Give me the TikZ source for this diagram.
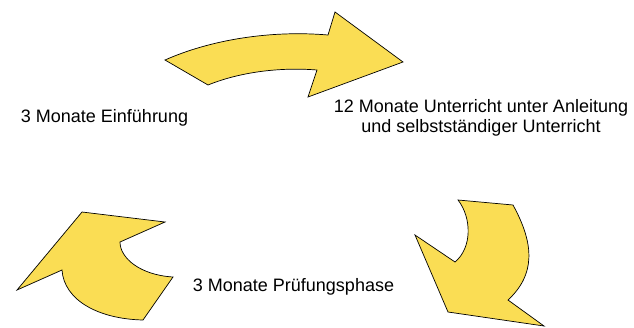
\documentclass[tikz,border=0pt]{standalone}
\usepackage{fontspec}
\setmainfont{Liberation Sans}
\usepackage{tikz}
\usetikzlibrary{positioning}

\definecolor{arrowyellow}{RGB}{250,221,84}

\tikzset{
  bentarrow/.style={draw=black, line width=0.7pt, fill=arrowyellow, line join=miter},
  phase/.style={inner sep=0pt, font=\fontsize{18}{20}\selectfont, text=black}
}

\begin{document}
\begin{tikzpicture}[x=1pt, y=-1pt]
  \useasboundingbox (0,0) rectangle (634,327);

  % arrow from intro to guided teaching
  \draw[bentarrow] (165,60) .. controls (210,40) and (270,30) .. (328,35)
    -- (335,12) -- (403,62) -- (308,97) -- (317,70)
    .. controls (280,67) and (240,72) .. (208,85) -- cycle;

  % arrow from guided teaching to exam
  \draw[bentarrow] (458,200) -- (513,205)
    .. controls (535,245) and (535,275) .. (508,300)
    -- (544,326) -- (448,312) -- (415,235) -- (455,262)
    .. controls (472,248) and (472,218) .. (458,200) -- cycle;

  % arrow from exam back to intro
  \draw[bentarrow] (82,212) -- (165,222) -- (120,242)
    .. controls (120,258) and (140,275) .. (173,277)
    -- (143,320) .. controls (98,319) and (64,300) .. (62,270)
    -- (17,290) -- cycle;

  % labels
  \node[phase, anchor=base] (intro) at (104.5,122) {3 Monate Einführung};
  \node[phase, align=center] (guided) at (481,117.4)
    {12 Monate Unterricht unter Anleitung\\und selbstständiger Unterricht};
  \node[phase, anchor=base] (exam) at (293.5,291) {3 Monate Prüfungsphase};
\end{tikzpicture}
\end{document}
